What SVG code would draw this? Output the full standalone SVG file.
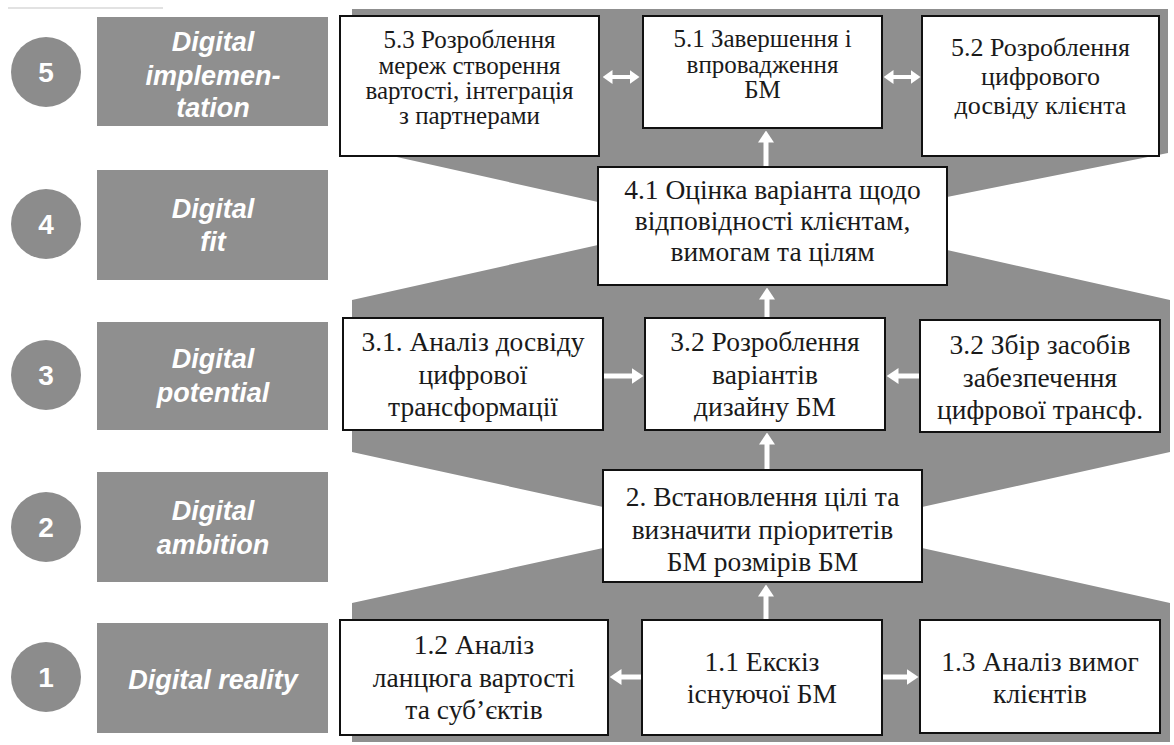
<svg xmlns="http://www.w3.org/2000/svg" width="1174" height="745" viewBox="0 0 1174 745">
  <style>
    .band { fill: #8f8f8f; }
    .stage rect { fill: #8f8f8f; }
    .stage circle { fill: #8c8c8c; }
    .num { font-family: "Liberation Sans", Arial, sans-serif; font-weight: bold; font-size: 28px; fill: #ffffff; text-anchor: middle; }
    .stage-label { font-family: "Liberation Sans", Arial, sans-serif; font-weight: bold; font-style: italic; font-size: 27px; fill: #ffffff; text-anchor: middle; }
    .node rect { fill: #ffffff; stroke: #111111; stroke-width: 2; }
    .node text { font-family: "Liberation Serif", "Times New Roman", serif; font-size: 27.5px; fill: #1a1a1a; text-anchor: middle; }
    .node.top text { font-size: 25px; }
    .node.wide text { font-size: 26px; }
    .arrow { stroke: #ffffff; stroke-width: 5; fill: none; marker-end: url(#head); }
    .dbl { stroke: #ffffff; stroke-width: 4; fill: none; marker-end: url(#headSmall); marker-start: url(#headSmall); }
  </style>
  <defs>
    <marker id="head" viewBox="0 0 12 16" markerWidth="12" markerHeight="16" refX="0.5" refY="8" orient="auto" markerUnits="userSpaceOnUse">
      <path d="M0,0 L12,8 L0,16 z" fill="#ffffff"/>
    </marker>
    <marker id="headSmall" viewBox="0 0 10 14" markerWidth="10" markerHeight="14" refX="0.5" refY="7" orient="auto-start-reverse" markerUnits="userSpaceOnUse">
      <path d="M0,0 L10,7 L0,14 z" fill="#ffffff"/>
    </marker>
  </defs>

  <rect width="1174" height="745" fill="#ffffff"/>
  <line x1="8" y1="8" x2="163" y2="8" stroke="#e2e2e2" stroke-width="2"/>

  <!-- grey funnel behind the process boxes -->
  <g id="background">
    <path class="band" d="M352,9 L1168,9 L1168,153 L947,197 L947,250 L1170,300 L1170,452 L922,507 L922,548 L1170,603 L1170,742 L352,742 L352,603 L603,548 L603,507 L352,452 L352,300 L598,245 L598,202 L352,147 Z"/>
  </g>

  <!-- stage markers on the left -->
  <g id="stage5" class="stage">
    <circle cx="46" cy="72" r="35"/>
    <text class="num" x="46" y="82">5</text>
    <rect x="97" y="17" width="231" height="109"/>
    <text class="stage-label" x="213" y="51">Digital</text>
    <text class="stage-label" x="213" y="85">implemen-</text>
    <text class="stage-label" x="213" y="117">tation</text>
  </g>
  <g id="stage4" class="stage">
    <circle cx="46" cy="224" r="35"/>
    <text class="num" x="46" y="234">4</text>
    <rect x="97" y="170" width="231" height="110"/>
    <text class="stage-label" x="213" y="218">Digital</text>
    <text class="stage-label" x="213" y="251">fit</text>
  </g>
  <g id="stage3" class="stage">
    <circle cx="46" cy="375" r="35"/>
    <text class="num" x="46" y="385">3</text>
    <rect x="97" y="322" width="231" height="108"/>
    <text class="stage-label" x="213" y="368">Digital</text>
    <text class="stage-label" x="213" y="402">potential</text>
  </g>
  <g id="stage2" class="stage">
    <circle cx="46" cy="527" r="35"/>
    <text class="num" x="46" y="537">2</text>
    <rect x="97" y="472" width="231" height="110"/>
    <text class="stage-label" x="213" y="520">Digital</text>
    <text class="stage-label" x="213" y="554">ambition</text>
  </g>
  <g id="stage1" class="stage">
    <circle cx="46" cy="677" r="35"/>
    <text class="num" x="46" y="687">1</text>
    <rect x="97" y="623" width="231" height="110"/>
    <text class="stage-label" x="213" y="689">Digital reality</text>
  </g>

  <!-- connectors -->
  <g id="connectors">
    <line class="arrow" x1="766" y1="620" x2="766" y2="596"/>
    <line class="arrow" x1="767" y1="470" x2="767" y2="444"/>
    <line class="arrow" x1="767" y1="318" x2="767" y2="299"/>
    <line class="arrow" x1="766" y1="167" x2="766" y2="142"/>
    <line class="arrow" x1="603" y1="376" x2="632" y2="376"/>
    <line class="arrow" x1="920" y1="376" x2="898" y2="376"/>
    <line class="arrow" x1="642" y1="677" x2="621" y2="677"/>
    <line class="arrow" x1="882" y1="677" x2="907" y2="677"/>
    <line class="dbl" x1="612" y1="77" x2="630" y2="77"/>
    <line class="dbl" x1="893" y1="77" x2="911" y2="77"/>
  </g>

  <!-- process boxes -->
  <g id="n5_3" class="node top">
    <rect x="340" y="16" width="259" height="140"/>
    <text x="469.5" y="48">5.3 Розроблення</text>
    <text x="469.5" y="74">мереж створення</text>
    <text x="469.5" y="99">вартості, інтеграція</text>
    <text x="469.5" y="124">з партнерами</text>
  </g>
  <g id="n5_1" class="node top">
    <rect x="643" y="16" width="239" height="112"/>
    <text x="762.5" y="47">5.1 Завершення і</text>
    <text x="762.5" y="73">впровадження</text>
    <text x="762.5" y="98">БМ</text>
  </g>
  <g id="n5_2" class="node wide">
    <rect x="922" y="16" width="237" height="140"/>
    <text x="1040.5" y="56">5.2 Розроблення</text>
    <text x="1040.5" y="85">цифрового</text>
    <text x="1040.5" y="114">досвіду клієнта</text>
  </g>
  <g id="n4_1" class="node">
    <rect x="598" y="167" width="349" height="118"/>
    <text x="772.5" y="199">4.1 Оцінка варіанта щодо</text>
    <text x="772.5" y="230">відповідності клієнтам,</text>
    <text x="772.5" y="261">вимогам та цілям</text>
  </g>
  <g id="n3_1" class="node">
    <rect x="343" y="318" width="260" height="112"/>
    <text x="473" y="351">3.1. Аналіз досвіду</text>
    <text x="473" y="384">цифрової</text>
    <text x="473" y="416">трансформації</text>
  </g>
  <g id="n3_2" class="node">
    <rect x="645" y="318" width="240" height="112"/>
    <text x="765" y="351">3.2 Розроблення</text>
    <text x="765" y="384">варіантів</text>
    <text x="765" y="416">дизайну БМ</text>
  </g>
  <g id="n3_3" class="node">
    <rect x="920" y="320" width="240" height="112"/>
    <text x="1040" y="354">3.2 Збір засобів</text>
    <text x="1040" y="387">забезпечення</text>
    <text x="1040" y="419">цифрової трансф.</text>
  </g>
  <g id="n2" class="node">
    <rect x="603" y="470" width="319" height="112"/>
    <text x="762.5" y="506">2. Встановлення цілі та</text>
    <text x="762.5" y="539">визначити пріоритетів</text>
    <text x="762.5" y="571">БМ розмірів БМ</text>
  </g>
  <g id="n1_2" class="node">
    <rect x="340" y="620" width="268" height="115"/>
    <text x="474" y="654">1.2 Аналіз</text>
    <text x="474" y="687">ланцюга вартості</text>
    <text x="474" y="719">та суб’єктів</text>
  </g>
  <g id="n1_1" class="node">
    <rect x="642" y="620" width="240" height="115"/>
    <text x="762" y="671">1.1 Екскіз</text>
    <text x="762" y="703">існуючої БМ</text>
  </g>
  <g id="n1_3" class="node">
    <rect x="920" y="620" width="240" height="113"/>
    <text x="1040" y="671">1.3 Аналіз вимог</text>
    <text x="1040" y="703">клієнтів</text>
  </g>
</svg>
